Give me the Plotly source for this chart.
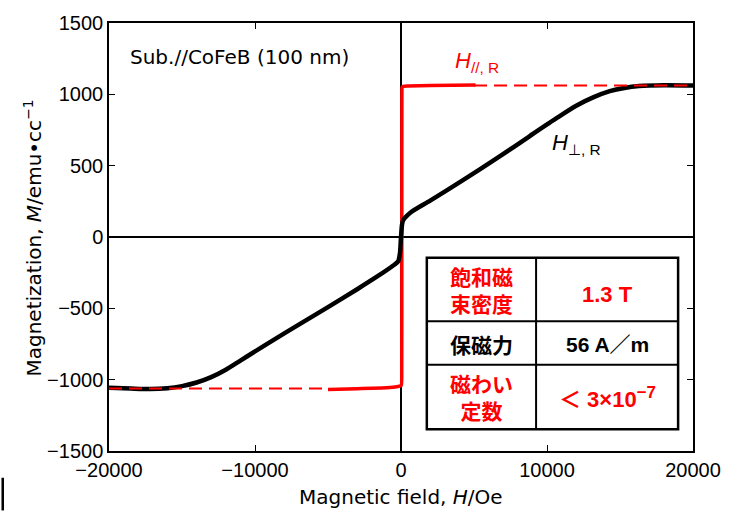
import plotly.graph_objects as go

# Hard-axis (perpendicular) magnetization curve, H in Oe, M in emu/cc
h_perp = [-20000, -18500, -17200, -16000, -15000, -14000, -13000, -12000, -11000,
          -10000, -9000, -7000, -5000, -3000, -1600, -600, -200, -68, 0, 68, 136,
          272, 680, 2000, 4300, 6600, 8800, 10700, 12000, 13200, 14300, 15300,
          16300, 18000, 20000]
m_perp = [-1056, -1062, -1066, -1060, -1045, -1020, -982, -930, -866,
          -802, -738, -614, -492, -366, -275, -205, -172, -110, 0, 85, 115,
          135, 174, 255, 402, 554, 706, 836, 920, 980, 1022, 1045,
          1058, 1064, 1062]

# Easy-axis (in-plane) square loop, measured part
h_par = [-5000, -3000, -1000, -300, 20, 50, 55, 60, 65, 80, 150, 500, 2000, 5100]
m_par = [-1069, -1063, -1057, -1050, -1040, -950, 0, 950, 1040, 1052, 1056, 1058, 1062, 1066]

# Saturation guide lines (dashed)
h_sat_neg = [-20000, -5000]
m_sat_neg = [-1062, -1062]
h_sat_pos = [5000, 20000]
m_sat_pos = [1062, 1062]

x_ticks = [-20000, -10000, 0, 10000, 20000]
x_ticktext = ["−20000", "−10000", "0", "10000", "20000"]
y_ticks = [-1500, -1000, -500, 0, 500, 1000, 1500]
y_ticktext = ["−1500", "−1000", "−500", "0", "500", "1000", "1500"]

RED = "#ff0000"
LAT = "Liberation Sans, Arial, sans-serif"
WIDE = "DejaVu Sans, sans-serif"
JP = "Liberation Sans, Noto Sans CJK JP, sans-serif"

fig = go.Figure()
fig.add_trace(go.Scatter(x=h_par, y=m_par, mode="lines",
                         line=dict(color=RED, width=3.5, shape="spline", smoothing=0.4)))
fig.add_trace(go.Scatter(x=h_perp, y=m_perp, mode="lines",
                         line=dict(color="black", width=4.5, shape="spline", smoothing=0.7)))
fig.add_trace(go.Scatter(x=h_sat_neg, y=m_sat_neg, mode="lines",
                         line=dict(color=RED, width=2.2, dash="13px,7px")))
fig.add_trace(go.Scatter(x=h_sat_pos, y=m_sat_pos, mode="lines",
                         line=dict(color=RED, width=2.2, dash="13px,7px")))

axis_common = dict(showline=True, linecolor="black", linewidth=1.5, mirror="ticks",
                   ticks="inside", ticklen=6, tickwidth=1.2, tickcolor="black",
                   showgrid=False, zeroline=True, zerolinecolor="black", zerolinewidth=1.5,
                   tickfont=dict(family=LAT, size=20, color="black"))

fig.update_xaxes(range=[-20000, 20000], tickvals=x_ticks, ticktext=x_ticktext, **axis_common)
fig.update_yaxes(range=[-1500, 1500], tickvals=y_ticks, ticktext=y_ticktext, **axis_common)

# pixel helpers for paper coordinates (plot area 109..697 x 19..451)
L, R, T, B = 109, 697, 19, 451
def px(x):
    return (x - L) / (R - L)
def py(y):
    return (B - y) / (B - T)

ann = []
# axis titles
ann.append(dict(x=px(403), y=py(497), xref="paper", yref="paper", xanchor="center", yanchor="middle",
                text="Magnetic field, <i>H</i>/Oe", showarrow=False,
                font=dict(family=WIDE, size=20, color="black")))
ann.append(dict(x=px(32), y=py(236), xref="paper", yref="paper", xanchor="center", yanchor="middle",
                text="Magnetization, <i>M</i>/emu•cc<sup>−1</sup>", showarrow=False, textangle=-90,
                font=dict(family=WIDE, size=20, color="black")))
# sample label and curve labels
ann.append(dict(x=px(128), y=py(53), xref="paper", yref="paper", xanchor="left", yanchor="middle",
                text="Sub.//CoFeB (100 nm)", showarrow=False,
                font=dict(family=WIDE, size=20, color="black")))
ann.append(dict(x=px(455), y=py(58), xref="paper", yref="paper", xanchor="left", yanchor="middle",
                text="<i>H</i><sub>//, R</sub>", showarrow=False,
                font=dict(family=LAT, size=22, color=RED)))
ann.append(dict(x=px(553), y=py(141), xref="paper", yref="paper", xanchor="left", yanchor="middle",
                text="<i>H</i><sub>⊥, R</sub>", showarrow=False,
                font=dict(family=LAT, size=22, color="black")))

# property table
tx0, tx1, tx2 = 429, 539, 682
ty0, ty1, ty2, ty3 = 256, 320, 364, 429
c1 = (tx0 + tx1) / 2
c2 = (tx1 + tx2) / 2
cells = [
    (c1, 290, "飽和磁<br>束密度", RED, 21),
    (c2, 293, "1.3 T", RED, 22),
    (c1, 345, "保磁力", "black", 21),
    (c2, 344, "56 A／m", "black", 21),
    (c1, 397, "磁わい<br>定数", RED, 21),
    (c2, 397, "＜ 3×10<sup><span style='font-size:17px'>−7</span></sup>", RED, 22),
]
for cx, cy, txt, col, fs in cells:
    ann.append(dict(x=px(cx), y=py(cy), xref="paper", yref="paper", xanchor="center", yanchor="middle",
                    text="<b>" + txt + "</b>", showarrow=False,
                    font=dict(family=JP, size=fs, color=col)))

shapes = []
shapes.append(dict(type="rect", xref="paper", yref="paper", x0=px(tx0), x1=px(tx2), y0=py(ty3), y1=py(ty0),
                   line=dict(color="black", width=2.5), fillcolor="white", layer="above"))
shapes.append(dict(type="line", xref="paper", yref="paper", x0=px(tx1), x1=px(tx1), y0=py(ty3), y1=py(ty0),
                   line=dict(color="black", width=2)))
for yy in (ty1, ty2):
    shapes.append(dict(type="line", xref="paper", yref="paper", x0=px(tx0), x1=px(tx2), y0=py(yy), y1=py(yy),
                       line=dict(color="black", width=2)))
# small vertical stroke at the lower-left page edge
shapes.append(dict(type="line", xref="paper", yref="paper", x0=px(2), x1=px(2), y0=py(478), y1=py(511),
                   line=dict(color="black", width=2.5)))

fig.update_layout(width=733, height=511, margin=dict(l=L, r=733 - R, t=T, b=511 - B),
                  plot_bgcolor="white", paper_bgcolor="white", showlegend=False,
                  annotations=ann, shapes=shapes)

fig.write_html("out.html")
